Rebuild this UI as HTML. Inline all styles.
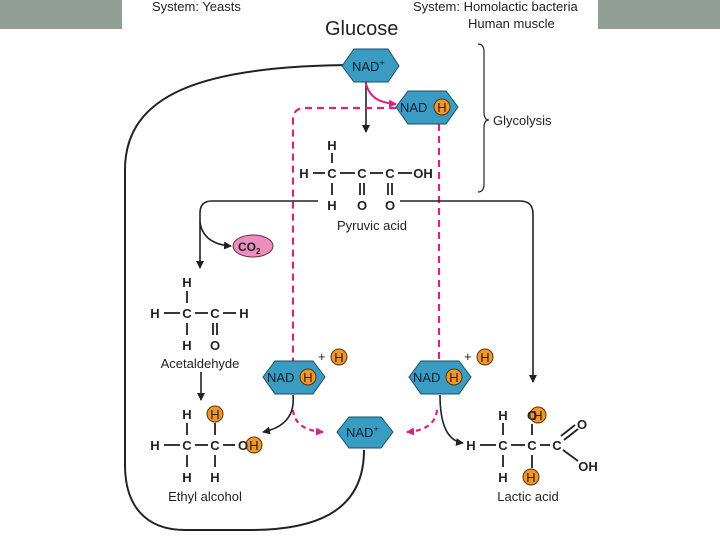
<!DOCTYPE html>
<html><head><meta charset="utf-8"><style>
html,body{margin:0;padding:0;background:#fff;}
svg{display:block;}
text{font-family:"Liberation Sans",sans-serif;fill:#222;}
.b{font-weight:bold;font-size:13px;}
</style></head><body>
<svg width="720" height="540" viewBox="0 0 720 540" xmlns="http://www.w3.org/2000/svg">
<defs>
<marker id="ak" markerWidth="8" markerHeight="8" refX="7" refY="4" orient="auto" markerUnits="userSpaceOnUse"><path d="M0,0 L8,4 L0,8 z" fill="#222"/></marker>
<marker id="am" markerWidth="8" markerHeight="8" refX="7" refY="4" orient="auto" markerUnits="userSpaceOnUse"><path d="M0,0 L8,4 L0,8 z" fill="#d6237f"/></marker>
</defs>
<rect x="0" y="0" width="122" height="29" fill="#909e95"/>
<rect x="598" y="0" width="122" height="29" fill="#909e95"/>
<text x="152" y="11" font-size="13">System: Yeasts</text>
<text x="413" y="11" font-size="13">System: Homolactic bacteria</text>
<text x="468" y="28" font-size="13">Human muscle</text>
<text x="325" y="35" font-size="20">Glucose</text>

<!-- big loop -->
<path d="M364 450 C364 515 310 530 250 530 L185 530 C145 530 125 505 125 465 L125 170 C125 95 200 65 358 65" fill="none" stroke="#222" stroke-width="2" marker-end="url(#ak)"/>
<!-- glycolysis arrows -->
<line x1="366" y1="66" x2="366" y2="132" stroke="#222" stroke-width="1.6" marker-end="url(#ak)"/>
<path d="M366 84 C370 98 380 103 396 104" fill="none" stroke="#d6237f" stroke-width="2" marker-end="url(#am)"/>
<!-- magenta dashed -->
<path d="M396 108 L305 108 Q293 108 293 120 L293 365" fill="none" stroke="#d6237f" stroke-width="2.2" stroke-dasharray="7,5"/>
<path d="M439 124 L439 365" fill="none" stroke="#d6237f" stroke-width="2.2" stroke-dasharray="7,5"/>
<path d="M293 410 Q295 430 323 432" fill="none" stroke="#d6237f" stroke-width="2.2" stroke-dasharray="5,4" marker-end="url(#am)"/>
<path d="M437 410 Q435 430 407 432" fill="none" stroke="#d6237f" stroke-width="2.2" stroke-dasharray="5,4" marker-end="url(#am)"/>
<!-- black branch lines -->
<path d="M318 201 L212 201 Q200 201 200 213 L200 268" fill="none" stroke="#222" stroke-width="1.6" marker-end="url(#ak)"/>
<path d="M200 222 Q203 244 231 246" fill="none" stroke="#222" stroke-width="1.6" marker-end="url(#ak)"/>
<path d="M400 201 L520 201 Q533 201 533 214 L533 382" fill="none" stroke="#222" stroke-width="1.6" marker-end="url(#ak)"/>
<line x1="201" y1="372" x2="201" y2="400" stroke="#222" stroke-width="1.6" marker-end="url(#ak)"/>
<path d="M293 395 Q296 425 263 432" fill="none" stroke="#222" stroke-width="1.6" marker-end="url(#ak)"/>
<path d="M440 395 Q440 440 463 443" fill="none" stroke="#222" stroke-width="1.6" marker-end="url(#ak)"/>
<!-- brace -->
<path d="M478 44 Q484 44 484 52 L484 112 Q484 120 489 120 Q484 120 484 128 L484 184 Q484 192 478 192" fill="none" stroke="#222" stroke-width="1.2"/>
<text x="493" y="125" font-size="13">Glycolysis</text>

<!-- hexagons -->
<g stroke="#1d4e63" stroke-width="1" fill="#3a9cc2">
<polygon points="342,66 354,49 388,49 399,66 388,82 354,82"/>
<polygon points="396,107 408,91 446,91 458,107 446,124 408,124"/>
<polygon points="263,377 275,361 313,361 325,377 313,394 275,394"/>
<polygon points="409,377 421,361 459,361 471,377 459,394 421,394"/>
<polygon points="337,432 349,417 381,417 393,432 381,448 349,448"/>
</g>
<g font-size="13" fill="#1a1a1a">
<text x="352" y="71" style="fill:#10202a">NAD<tspan font-size="9" dy="-5">+</tspan></text>
<text x="400" y="112" style="fill:#10202a">NAD</text>
<text x="267" y="382" style="fill:#10202a">NAD</text>
<text x="413" y="382" style="fill:#10202a">NAD</text>
<text x="346" y="437" style="fill:#10202a">NAD<tspan font-size="9" dy="-5">+</tspan></text>
</g>
<!-- orange H circles -->
<g stroke="#5a3300" stroke-width="1" fill="#f0962a">
<circle cx="442" cy="107" r="8"/>
<circle cx="308" cy="377" r="8"/>
<circle cx="339" cy="357" r="8"/>
<circle cx="454" cy="377" r="8"/>
<circle cx="485" cy="357" r="8"/>
<circle cx="215" cy="414" r="8"/>
<circle cx="254" cy="445" r="8"/>
<circle cx="538" cy="415" r="8"/>
<circle cx="531" cy="477" r="8"/>
</g>
<g font-size="13" text-anchor="middle" style="fill:#2a1500">
<text x="442" y="112">H</text><text x="308" y="382">H</text><text x="339" y="362">H</text>
<text x="454" y="382">H</text><text x="485" y="362">H</text><text x="215" y="419">H</text>
<text x="254" y="450">H</text><text x="538" y="420">H</text><text x="531" y="482">H</text>
</g>
<text x="318" y="361" font-size="13">+</text>
<text x="464" y="361" font-size="13">+</text>

<!-- CO2 -->
<ellipse cx="253" cy="246" rx="20" ry="11" fill="#ec8fbf" stroke="#6a2a4a" stroke-width="1"/>
<text x="238" y="251" font-size="12" font-weight="bold">CO<tspan font-size="8" dy="3">2</tspan></text>

<!-- structures -->
<g class="b" text-anchor="middle">
<!-- pyruvic -->
<text x="332" y="150">H</text>
<text x="304" y="178">H</text><text x="332" y="178">C</text><text x="362" y="178">C</text><text x="390" y="178">C</text><text x="423" y="178">OH</text>
<text x="332" y="210">H</text><text x="362" y="210">O</text><text x="390" y="210">O</text>
<!-- acetaldehyde -->
<text x="187" y="287">H</text>
<text x="155" y="318">H</text><text x="187" y="318">C</text><text x="215" y="318">C</text><text x="244" y="318">H</text>
<text x="187" y="350">H</text><text x="215" y="350">O</text>
<!-- ethyl alcohol -->
<text x="187" y="419">H</text>
<text x="155" y="450">H</text><text x="187" y="450">C</text><text x="215" y="450">C</text><text x="243" y="450">O</text>
<text x="187" y="482">H</text><text x="215" y="482">H</text>
<!-- lactic -->
<text x="503" y="420">H</text><text x="532" y="420">O</text>
<text x="471" y="450">H</text><text x="503" y="450">C</text><text x="532" y="450">C</text><text x="557" y="450">C</text>
<text x="503" y="482">H</text>
<text x="582" y="429">O</text><text x="588" y="471">OH</text>
</g>
<g stroke="#222" stroke-width="1.8">
<!-- pyruvic bonds -->
<line x1="332" y1="153" x2="332" y2="163"/><line x1="313" y1="173" x2="325" y2="173"/><line x1="340" y1="173" x2="355" y2="173"/><line x1="370" y1="173" x2="383" y2="173"/><line x1="398" y1="173" x2="412" y2="173"/>
<line x1="332" y1="183" x2="332" y2="195"/><line x1="360" y1="183" x2="360" y2="195"/><line x1="364" y1="183" x2="364" y2="195"/><line x1="388" y1="183" x2="388" y2="195"/><line x1="392" y1="183" x2="392" y2="195"/>
<!-- acetaldehyde -->
<line x1="187" y1="291" x2="187" y2="303"/><line x1="164" y1="313" x2="180" y2="313"/><line x1="195" y1="313" x2="208" y2="313"/><line x1="223" y1="313" x2="236" y2="313"/>
<line x1="187" y1="323" x2="187" y2="335"/><line x1="213" y1="323" x2="213" y2="335"/><line x1="217" y1="323" x2="217" y2="335"/>
<!-- ethyl -->
<line x1="187" y1="423" x2="187" y2="435"/><line x1="215" y1="423" x2="215" y2="435"/><line x1="164" y1="445" x2="180" y2="445"/><line x1="195" y1="445" x2="208" y2="445"/><line x1="223" y1="445" x2="235" y2="445"/>
<line x1="187" y1="455" x2="187" y2="467"/><line x1="215" y1="455" x2="215" y2="467"/>
<!-- lactic -->
<line x1="503" y1="423" x2="503" y2="435"/><line x1="532" y1="424" x2="532" y2="435"/><line x1="480" y1="445" x2="496" y2="445"/><line x1="511" y1="445" x2="525" y2="445"/><line x1="540" y1="445" x2="550" y2="445"/>
<line x1="503" y1="455" x2="503" y2="467"/><line x1="532" y1="455" x2="532" y2="468"/>
<line x1="561" y1="436" x2="575" y2="425"/><line x1="564" y1="440" x2="578" y2="429"/><line x1="563" y1="450" x2="578" y2="461"/>
</g>
<g font-size="13" text-anchor="middle">
<text x="372" y="230">Pyruvic acid</text>
<text x="200" y="368">Acetaldehyde</text>
<text x="205" y="501">Ethyl alcohol</text>
<text x="528" y="501">Lactic acid</text>
</g>
</svg>
</body></html>
